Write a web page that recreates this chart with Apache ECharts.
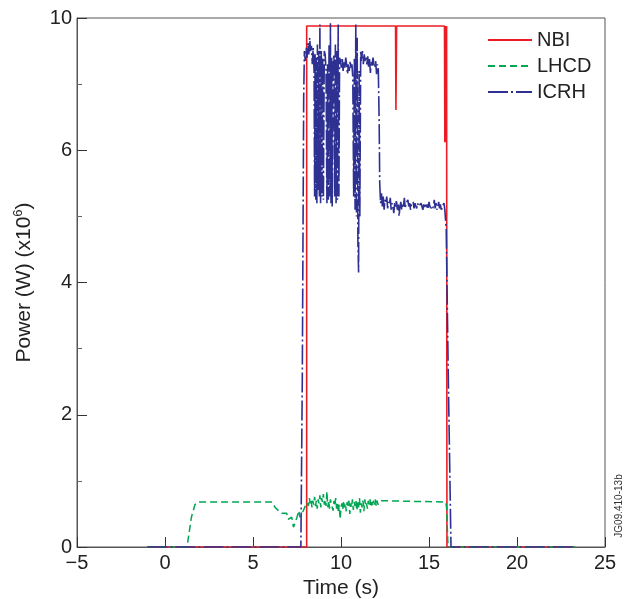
<!DOCTYPE html>
<html>
<head>
<meta charset="utf-8">
<script src="https://cdn.jsdelivr.net/npm/echarts@6/dist/echarts.min.js"></script>
<style>html,body{margin:0;padding:0;background:#fff;}#c{width:629px;height:599px;}</style>
</head>
<body>
<div id="c"></div>
<script>
// ---- data (time in s, power as read against the axis) ----
const seriesNames = ['NBI', 'LHCD', 'ICRH'];
const xTickValues = [-5, 0, 5, 10, 15, 20, 25];
const xTickLabels = ['\u22125', '0', '5', '10', '15', '20', '25'];
const yTickValues = [0, 2, 4, 6, 8];
const yTickLabels = ['0', '2', '4', '6', '10'];
const sideNote = 'JG09.410-13b';

const nbiData = [
  [-1, 0], [8.05, 0], [8.05, 7.88], [13.1, 7.88], [13.12, 6.61], [13.16, 7.88],
  [15.88, 7.88], [15.9, 6.12], [15.92, 7.88], [15.94, 6.12], [15.96, 7.88],
  [15.98, 6.12], [16.0, 7.88], [16.02, 0], [23.3, 0]
];

const lhcdData = [
  [-1, 0], [1.25, 0], [1.5, 0.45], [1.7, 0.64], [1.85, 0.68], [6.1, 0.68],
  [6.25, 0.6], [6.44, 0.55], [6.63, 0.51], [6.91, 0.51], [7.0, 0.42], [7.2, 0.45],
  [7.3, 0.3], [7.5, 0.45], [7.6, 0.55], [7.67, 0.45], [7.77, 0.42], [7.86, 0.55],
  [8.05, 0.67], [8.1, 0.7], [8.15, 0.62], [8.2, 0.74], [8.25, 0.66], [8.3, 0.72],
  [8.35, 0.6], [8.4, 0.7], [8.45, 0.64], [8.5, 0.76], [8.55, 0.62], [8.6, 0.7],
  [8.65, 0.58], [8.7, 0.72], [8.75, 0.66], [8.8, 0.78], [8.85, 0.6], [8.9, 0.74],
  [8.95, 0.68], [9.0, 0.8], [9.05, 0.64], [9.1, 0.72], [9.15, 0.62], [9.2, 0.84],
  [9.25, 0.6], [9.3, 0.7], [9.35, 0.58], [9.4, 0.72], [9.45, 0.65], [9.5, 0.68],
  [9.55, 0.55], [9.6, 0.7], [9.65, 0.62], [9.7, 0.74], [9.75, 0.58], [9.8, 0.66],
  [9.85, 0.52], [9.9, 0.64], [9.95, 0.42], [10.0, 0.6], [10.05, 0.66], [10.1, 0.56],
  [10.15, 0.7], [10.2, 0.6], [10.25, 0.66], [10.3, 0.54], [10.35, 0.68], [10.4, 0.62],
  [10.45, 0.7], [10.5, 0.5], [10.55, 0.66], [10.6, 0.6], [10.65, 0.72], [10.7, 0.56],
  [10.75, 0.68], [10.8, 0.62], [10.85, 0.7], [10.9, 0.55], [10.95, 0.68], [11.0, 0.6],
  [11.05, 0.74], [11.1, 0.52], [11.15, 0.66], [11.2, 0.6], [11.25, 0.7], [11.3, 0.54],
  [11.35, 0.72], [11.4, 0.62], [11.45, 0.66], [11.5, 0.58], [11.55, 0.7], [11.6, 0.64],
  [11.65, 0.72], [11.7, 0.6], [11.75, 0.68], [11.8, 0.62], [11.85, 0.7], [11.9, 0.64],
  [11.95, 0.72], [12.0, 0.62], [12.05, 0.7], [12.1, 0.64], [12.15, 0.68], [12.2, 0.66],
  [12.3, 0.7], [12.4, 0.68], [15.95, 0.68], [16.0, 0.6], [16.08, 0], [23.3, 0]
];

const icrhData = [
  [-1, 0], [7.72, 0], [7.8, 2.5], [7.88, 6.8], [7.92, 7.5], [7.97, 7.35], [8.02, 7.55],
  [8.07, 7.4], [8.12, 7.62], [8.17, 7.45], [8.22, 7.7], [8.27, 7.5], [8.32, 7.58],
  [8.37, 7.3], [8.42, 7.55], [8.47, 7.2], [8.5, 5.3], [8.53, 7.45], [8.57, 5.25],
  [8.6, 7.4], [8.63, 5.2], [8.66, 7.6], [8.7, 5.4], [8.73, 7.5], [8.77, 5.3],
  [8.8, 7.9], [8.84, 5.2], [8.88, 7.5], [8.92, 5.3], [8.96, 7.4], [9.0, 5.25],
  [9.05, 7.5], [9.1, 7.45], [9.15, 7.2], [9.2, 5.2], [9.24, 7.3], [9.28, 5.25],
  [9.32, 7.6], [9.36, 5.3], [9.4, 7.92], [9.43, 5.2], [9.47, 7.4], [9.5, 5.15],
  [9.55, 7.3], [9.6, 7.45], [9.64, 5.3], [9.68, 7.6], [9.72, 5.2], [9.76, 7.5],
  [9.8, 5.25], [9.84, 7.9], [9.88, 5.3], [9.92, 7.4], [9.97, 7.35], [10.02, 7.25],
  [10.07, 7.4], [10.12, 7.2], [10.17, 7.35], [10.22, 7.25], [10.27, 7.4], [10.32, 7.3],
  [10.37, 7.15], [10.42, 7.3], [10.47, 7.2], [10.52, 7.35], [10.57, 7.25], [10.62, 7.3],
  [10.67, 7.1], [10.72, 5.3], [10.76, 7.4], [10.8, 5.1], [10.84, 7.9], [10.88, 5.0],
  [10.92, 7.7], [10.96, 4.6], [11.0, 4.15], [11.03, 7.2], [11.07, 5.0], [11.12, 7.5],
  [11.17, 7.35], [11.22, 7.5], [11.27, 7.3], [11.32, 7.45], [11.37, 7.35], [11.42, 7.4],
  [11.47, 7.3], [11.52, 7.42], [11.57, 7.25], [11.62, 7.38], [11.67, 7.17], [11.72, 7.35],
  [11.77, 7.28], [11.82, 7.4], [11.87, 7.3], [11.92, 7.25], [11.97, 7.35], [12.02, 7.15],
  [12.07, 7.3], [12.12, 7.22], [12.17, 6.4], [12.2, 5.5], [12.25, 5.2], [12.3, 5.35],
  [12.35, 5.15], [12.4, 5.3], [12.45, 5.1], [12.5, 5.25], [12.55, 5.2], [12.6, 5.3],
  [12.65, 5.12], [12.7, 5.22], [12.75, 5.18], [12.8, 5.28], [12.85, 5.1], [12.9, 5.2],
  [12.95, 5.15], [13.0, 5.05], [13.05, 5.2], [13.1, 5.15], [13.15, 5.25], [13.2, 5.1],
  [13.25, 5.18], [13.3, 5.0], [13.35, 5.15], [13.4, 5.22], [13.45, 5.1], [13.5, 5.2],
  [13.55, 5.15], [13.6, 5.28], [13.65, 5.12], [13.7, 5.2], [13.75, 5.18], [13.8, 5.25],
  [13.85, 5.15], [13.9, 5.2], [13.95, 5.1], [14.0, 5.18], [14.05, 5.15], [14.1, 5.22],
  [14.15, 5.12], [14.2, 5.2], [14.25, 5.16], [14.3, 5.12], [14.35, 5.2], [14.4, 5.15],
  [14.45, 5.18], [14.5, 5.12], [14.55, 5.2], [14.6, 5.15], [14.65, 5.1], [14.7, 5.18],
  [14.75, 5.14], [14.8, 5.2], [14.85, 5.12], [14.9, 5.18], [14.95, 5.13], [15.0, 5.22],
  [15.05, 5.15], [15.1, 5.12], [15.15, 5.18], [15.2, 5.1], [15.25, 5.16], [15.3, 5.25],
  [15.35, 5.12], [15.4, 5.2], [15.45, 5.1], [15.5, 5.15], [15.55, 5.22], [15.6, 5.12],
  [15.65, 5.18], [15.7, 5.08], [15.75, 5.15], [15.8, 5.12], [15.85, 5.2], [15.9, 5.1],
  [15.95, 5.12], [15.98, 4.8], [16.1, 2.5], [16.25, 0], [23.3, 0]
];

// ---- chart ----
const FONT = '"Liberation Sans", Arial, Helvetica, sans-serif';
const AX = '#555';
const NONE = 'rgba(0,0,0,0)';
const chart = echarts.init(document.getElementById('c'), null, { renderer: 'canvas' });

function lookup(vals, labels, v) {
  const i = vals.findIndex(t => Math.abs(t - v) < 1e-9);
  return i >= 0 ? labels[i] : '';
}

chart.setOption({
  animation: false,
  backgroundColor: '#fff',
  textStyle: { fontFamily: FONT },
  grid: { left: 77, right: 24, top: 18, bottom: 52, show: true, borderColor: AX, borderWidth: 1,
    containLabel: false, outerBoundsMode: 'none' },
  legend: {
    data: seriesNames,
    orient: 'vertical',
    left: 482,
    top: 25,
    itemWidth: 44,
    itemHeight: 14,
    itemGap: 6,
    itemStyle: { opacity: 0 },
    textStyle: { fontSize: 20, color: '#222', fontFamily: FONT }
  },
  xAxis: {
    type: 'value', min: -5, max: 25, interval: 5,
    name: 'Time (s)', nameLocation: 'middle', nameGap: 29,
    nameTextStyle: { fontSize: 21, color: '#222', fontFamily: FONT },
    axisLine: { show: true, onZero: false, lineStyle: { color: AX, width: 1 } },
    axisTick: { show: true, inside: true, length: 10, lineStyle: { color: '#333' } },
    axisLabel: { fontSize: 20, color: '#222', margin: 6, fontFamily: FONT,
      formatter: v => lookup(xTickValues, xTickLabels, v) },
    splitLine: { show: false }
  },
  yAxis: {
    type: 'value', min: 0, max: 8, interval: 2,
    name: 'Power (W) (x10{sup|6})', nameLocation: 'middle', nameGap: 41,
    nameTextStyle: { fontSize: 21, color: '#222', fontFamily: FONT,
      rich: { sup: { fontSize: 13, color: '#222', fontFamily: FONT, padding: [0, 0, 11, 0] } } },
    axisLine: { show: true, onZero: false, lineStyle: { color: AX, width: 1 } },
    axisTick: { show: true, inside: true, length: 10, lineStyle: { color: '#333' } },
    minorTick: { show: true, splitNumber: 2, length: 5, lineStyle: { color: '#666' } },
    axisLabel: { fontSize: 20, color: '#222', margin: 5, fontFamily: FONT,
      formatter: v => lookup(yTickValues, yTickLabels, v) },
    splitLine: { show: false }
  },
  graphic: [{
    type: 'text', x: 619, y: 506, rotation: Math.PI / 2,
    style: { text: sideNote, fontSize: 10, fill: '#333', fontFamily: FONT,
      textAlign: 'center', textVerticalAlign: 'middle' }
  }],
  series: [
    { name: seriesNames[0], type: 'line', data: nbiData, symbol: 'none', z: 2,
      lineStyle: { color: '#ed1c24', width: 1.6 }, itemStyle: { color: NONE } },
    { name: seriesNames[1], type: 'line', data: lhcdData, symbol: 'none', z: 3,
      lineStyle: { color: '#00a651', width: 1.5, type: [7, 4] }, itemStyle: { color: NONE } },
    { name: seriesNames[2], type: 'line', data: icrhData, symbol: 'none', z: 4,
      lineStyle: { color: '#2e3192', width: 1.6, type: [20, 3, 2, 3] }, itemStyle: { color: NONE } }
  ]
});
</script>
</body>
</html>
